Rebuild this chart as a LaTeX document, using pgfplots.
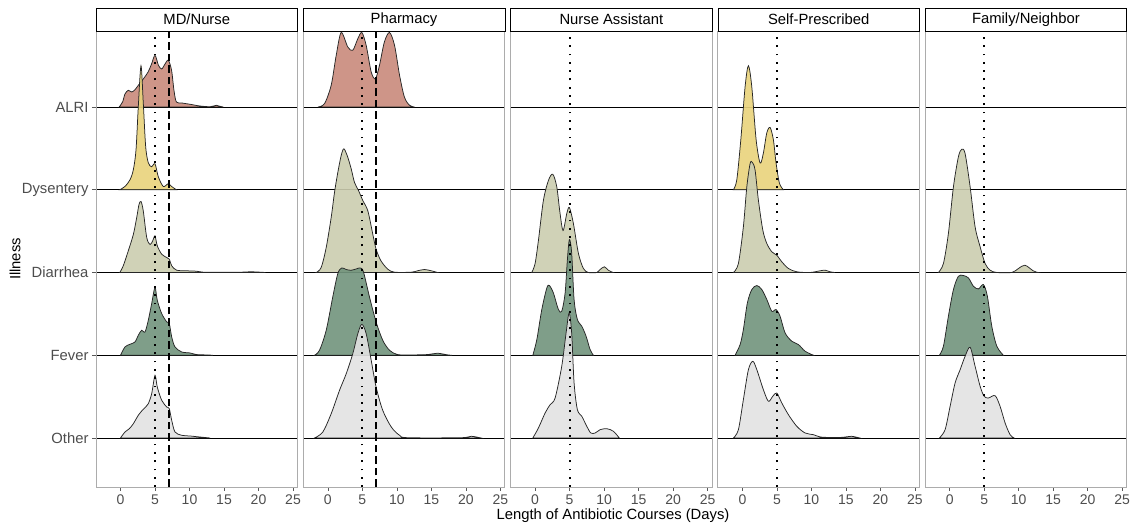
\documentclass[border=0pt]{standalone}
\usepackage{fontspec}
\setmainfont{Liberation Sans}
\usepackage{pgfplots}
\pgfplotsset{compat=1.18}

\definecolor{cALRI}{HTML}{C98A7B}
\definecolor{cDys}{HTML}{E9D37B}
\definecolor{cDia}{HTML}{CBCDAF}
\definecolor{cFev}{HTML}{71937C}
\definecolor{cOth}{HTML}{E2E2E2}
\definecolor{tickgray}{HTML}{4D4D4D}

\newcommand\ticksize{\fontsize{14}{16}\selectfont}
\newcommand\labsize{\fontsize{14.8}{17}\selectfont}

% baselines (in pixel-like units of the panel height)
\def\bALRI{380}
\def\bDys{297.25}
\def\bDia{214.5}
\def\bFev{131.75}
\def\bOth{49}

\pgfplotsset{
  panel/.style={
    width=201.5pt, height=456pt, scale only axis, anchor=south west,
    xmin=-3.55, xmax=25.65, ymin=0, ymax=456,
    xtick={0,5,...,25}, ytick={49,131.75,214.5,297.25,380},
    xtick pos=lower, ytick pos=left,
    ymajorgrids, grid style={black, line width=0.6pt},
    tick align=outside, major tick length=4pt,
    tick style={gray!70!black, line width=0.6pt},
    axis line style={gray!65, line width=0.9pt},
    ticklabel style={text=tickgray, font=\ticksize},
    /pgf/number format/assume math mode=true,
    clip=true,
  },
  noy/.style={yticklabels={}, y tick style={draw=none}},
  ridge/.style n args={2}{fill=#1, fill opacity=0.9, draw=black!85,
    line width=0.75pt, smooth, tension=0.5, y filter/.expression={y+#2}},
  vdot/.style={black, line width=1.8pt, dash pattern=on 1.8pt off 6.5pt},
  vdash/.style={black, line width=1.6pt, dash pattern=on 7.5pt off 4pt},
}

\begin{document}
\begin{tikzpicture}
\useasboundingbox (0,0) rectangle (1133pt,525pt);

% ---------------- MD/Nurse ----------------
\begin{axis}[panel, name=p1, at={(96pt,38pt)},
  yticklabels={Other,Fever,Diarrhea,Dysentery,ALRI},
  yticklabel style={font=\labsize}]
\addplot[ridge={cALRI}{\bALRI}] coordinates {(-0.2,0)(0.3,5)(0.65,13)(1.13,16.7)(1.62,15)(2.1,17.3)(2.58,21.7)(3.3,28)(4.0,35)(4.5,43)(5.0,51.7)(5.5,41.7)(5.97,38)(6.45,43)(6.93,46.7)(7.4,36.7)(7.75,16.7)(8.1,5)(8.9,4)(10.1,2.7)(11.5,1)(13,0.3)(13.9,1.7)(14.4,0.7)(14.9,0)} -- cycle;
\addplot[ridge={cDys}{\bDys}] coordinates {(-0.1,0)(0.65,3.3)(1.38,10)(1.86,20)(2.25,40)(2.58,83)(2.97,124)(3.3,87)(3.65,43)(4.03,27)(4.5,23)(5.0,26)(5.48,13)(6.2,3.3)(6.93,6)(7.4,3.3)(8.1,0)} -- cycle;
\addplot[ridge={cDia}{\bDia}] coordinates {(-0.1,0)(0.4,6.7)(1.13,21.7)(1.86,38)(2.35,55)(2.68,68)(2.97,71)(3.3,61.7)(3.8,35)(4.28,28)(4.67,31.7)(5.0,36.7)(5.33,26.7)(5.97,18.3)(6.7,15)(7.07,13.3)(7.42,6.7)(8.14,2.3)(9.6,1.7)(11,1.3)(12,0.3)(14,0.2)(17,0.2)(19,0.7)(21,0)} -- cycle;
\addplot[ridge={cFev}{\bFev}] coordinates {(0,0)(0.65,8.3)(1.38,11)(2.1,13.3)(2.58,20)(3.07,25)(3.55,23.3)(4.03,35)(4.52,51.7)(5.0,68)(5.33,55)(5.97,41.7)(6.7,33.3)(7.07,31.7)(7.42,18.3)(7.9,8.3)(8.87,3.3)(10.07,2.3)(11,0.7)(12.5,0.3)(13.4,0)} -- cycle;
\addplot[ridge={cOth}{\bOth}] coordinates {(0,0)(0.65,6)(1.28,9.3)(1.86,14.3)(2.58,22.7)(3.16,27.7)(3.65,31)(4.03,34.3)(4.52,44.3)(5.0,62.7)(5.33,51)(5.97,37.7)(6.7,31)(7.07,29.3)(7.42,17.7)(7.9,6)(8.87,2.7)(10.07,2)(11.5,1)(13,0)} -- cycle;
\addplot[vdot] coordinates {(5,0)(5,456)};
\addplot[vdash] coordinates {(7,0)(7,456)};
\end{axis}

% ---------------- Pharmacy ----------------
\begin{axis}[panel, noy, name=p2, at={(303.3pt,38pt)}]
\addplot[ridge={cALRI}{\bALRI}] coordinates {(-1.45,0)(-0.48,3.3)(0.49,21.7)(1.22,51.7)(1.94,74.5)(2.9,60)(3.62,56.7)(4.35,68.3)(4.93,74.5)(5.56,61.7)(6.29,35)(6.9,28.3)(7.49,41.7)(8.2,65)(8.94,74.5)(9.67,61.7)(10.4,31.7)(11.1,10)(11.84,1.7)(12.57,0)} -- cycle;
\addplot[ridge={cDia}{\bDia}] coordinates {(-1.68,0)(-0.96,5)(-0.23,25)(0.49,55)(0.97,80)(1.45,100)(1.94,117)(2.32,123.7)(2.81,117)(3.39,103.7)(3.87,90)(4.45,82)(5.07,72)(5.8,61.7)(6.52,38.3)(7.0,23.3)(7.7,11.7)(8.7,3.3)(9.67,0.3)(12.1,0.3)(13.0,1.7)(14.0,3)(15,1.7)(15.9,0)} -- cycle;
\addplot[ridge={cFev}{\bFev}] coordinates {(-1.93,0)(-1.2,5)(-0.23,25)(0.72,58.3)(1.45,81.7)(2.03,87.3)(2.67,85.7)(3.39,85)(4.12,86.3)(4.7,87.3)(5.17,83.3)(6.04,58.3)(7.0,33.3)(7.96,15)(8.94,5)(10.1,0.7)(12,0.3)(14.5,0.7)(15.9,2)(17.4,0.3)(18,0)} -- cycle;
\addplot[ridge={cOth}{\bOth}] coordinates {(-1.93,0)(-0.72,6)(0.49,24.3)(1.7,47.7)(2.67,64.3)(3.62,84.3)(4.35,104.3)(4.93,113.7)(5.56,104.3)(6.29,77.7)(7.0,51)(7.96,27.7)(9.2,11)(10.4,2.7)(11.6,0.3)(19.3,0.3)(20.8,1.7)(22.2,0)} -- cycle;
\addplot[vdot] coordinates {(5,0)(5,456)};
\addplot[vdash] coordinates {(7,0)(7,456)};
\end{axis}

% ---------------- Nurse Assistant ----------------
\begin{axis}[panel, noy, name=p3, at={(510.6pt,38pt)}]
\addplot[ridge={cDia}{\bDia}] coordinates {(-0.48,0)(0,9)(0.48,32)(1.2,72)(1.93,92)(2.56,98.3)(3.14,85.7)(3.6,60)(4.05,42)(4.59,59)(4.97,65)(5.55,49)(6.28,19)(7.0,4)(7.72,0)(8.93,0)(9.42,3)(10.04,5.7)(10.6,2.3)(11.3,0)} -- cycle;
\addplot[ridge={cFev}{\bFev}] coordinates {(-0.33,0)(0.25,15.7)(0.97,45.7)(1.7,67.3)(2.07,69.7)(2.65,62.3)(3.38,45.7)(3.86,44)(4.35,62.3)(4.68,95.7)(4.97,115.7)(5.3,102.3)(5.65,55.7)(6.13,35.7)(6.77,29)(7.39,19)(7.97,5.7)(8.45,0)} -- cycle;
\addplot[ridge={cOth}{\bOth}] coordinates {(-0.33,0)(0.48,10)(1.45,25)(2.17,33.3)(2.9,40)(3.86,71.7)(4.49,105)(4.93,125)(5.3,105)(5.65,55)(6.13,28.3)(6.77,21.7)(7.49,11.7)(8.07,5)(8.7,5)(9.42,8.3)(10.4,9.3)(11.35,6.7)(12.2,0)} -- cycle;
\addplot[vdot] coordinates {(5,0)(5,456)};
\end{axis}

% ---------------- Self-Prescribed ----------------
\begin{axis}[panel, noy, name=p4, at={(717.9pt,38pt)}]
\addplot[ridge={cDys}{\bDys}] coordinates {(-1.3,0)(-0.81,10)(-0.23,50)(0.39,103)(0.87,124)(1.36,103)(1.99,50)(2.57,26.7)(3.04,36.7)(3.53,56.7)(4.01,62.3)(4.49,50)(4.88,26.7)(5.36,6.7)(5.94,0)} -- cycle;
\addplot[ridge={cDia}{\bDia}] coordinates {(-1.3,0)(-0.58,9)(0.14,45.7)(0.64,85.7)(1.12,109)(1.45,110)(1.84,102.3)(2.32,72.3)(2.96,42.3)(3.54,29)(4.26,20.7)(4.98,17.3)(5.71,10.7)(6.67,4)(7.88,0.7)(9.8,0)(11.26,1.7)(11.99,2.3)(12.7,0.7)(13.4,0)} -- cycle;
\addplot[ridge={cFev}{\bFev}] coordinates {(-1.06,0)(-0.33,10.7)(0.14,25.7)(0.72,52.3)(1.36,65.7)(2.09,69.7)(2.81,65.7)(3.54,55.7)(4.26,44)(4.88,45.7)(5.46,39)(6.19,22.3)(7.16,14)(8.12,10.7)(9.09,4)(10.3,0)} -- cycle;
\addplot[ridge={cOth}{\bOth}] coordinates {(-1.3,0)(-0.58,8.3)(0.14,38.3)(0.87,68.3)(1.51,76.7)(2.09,68.3)(3.04,48.3)(3.77,36.7)(4.4,41.7)(4.98,45)(5.71,35)(6.67,23.3)(7.88,11.7)(9.09,5)(10.3,3.3)(11.3,1)(13,0.5)(14.6,0.7)(15.8,1.7)(17,0)} -- cycle;
\addplot[vdot] coordinates {(5,0)(5,456)};
\end{axis}

% ---------------- Family/Neighbor ----------------
\begin{axis}[panel, noy, name=p5, at={(925.2pt,38pt)}]
\addplot[ridge={cDia}{\bDia}] coordinates {(-1.64,0)(-0.91,9)(-0.19,39)(0.54,85.7)(1.26,115.7)(1.75,123.3)(2.23,119)(2.96,85.7)(3.68,45.7)(4.41,25.7)(5.13,9)(5.86,2.3)(6.83,0)(9.0,0)(9.96,4)(10.9,7.3)(12.1,1.7)(12.8,0)} -- cycle;
\addplot[ridge={cFev}{\bFev}] coordinates {(-1.5,0)(-0.91,9)(-0.19,39)(0.54,65.7)(1.26,79)(1.99,79.7)(2.72,77.3)(3.44,69)(4.16,66.3)(4.88,70.7)(5.46,59)(6.1,29)(6.83,9)(7.78,0)} -- cycle;
\addplot[ridge={cOth}{\bOth}] coordinates {(-1.5,0)(-0.67,8.3)(0.06,31.7)(0.78,55)(1.51,68.3)(2.23,81.7)(2.96,90.7)(3.68,71.7)(4.41,51.7)(4.99,41.7)(5.61,40)(6.58,42.3)(7.3,31.7)(8.03,15)(8.75,3.3)(9.33,0)} -- cycle;
\addplot[vdot] coordinates {(5,0)(5,456)};
\end{axis}

% facet strips
\draw[line width=0.6pt, fill=white] (p1.north west) rectangle ([yshift=23pt]p1.north east);
\node[font=\labsize] at ([yshift=11.5pt]p1.north) {MD/Nurse};
\draw[line width=0.6pt, fill=white] (p2.north west) rectangle ([yshift=23pt]p2.north east);
\node[font=\labsize] at ([yshift=11.5pt]p2.north) {Pharmacy};
\draw[line width=0.6pt, fill=white] (p3.north west) rectangle ([yshift=23pt]p3.north east);
\node[font=\labsize] at ([yshift=11.5pt]p3.north) {Nurse Assistant};
\draw[line width=0.6pt, fill=white] (p4.north west) rectangle ([yshift=23pt]p4.north east);
\node[font=\labsize] at ([yshift=11.5pt]p4.north) {Self-Prescribed};
\draw[line width=0.6pt, fill=white] (p5.north west) rectangle ([yshift=23pt]p5.north east);
\node[font=\labsize] at ([yshift=11.5pt]p5.north) {Family/Neighbor};

% axis titles
\node[font=\labsize, rotate=90] at (15pt,266pt) {Illness};
\node[font=\labsize] at (613pt,9pt) {Length of Antibiotic Courses (Days)};
\end{tikzpicture}
\end{document}
